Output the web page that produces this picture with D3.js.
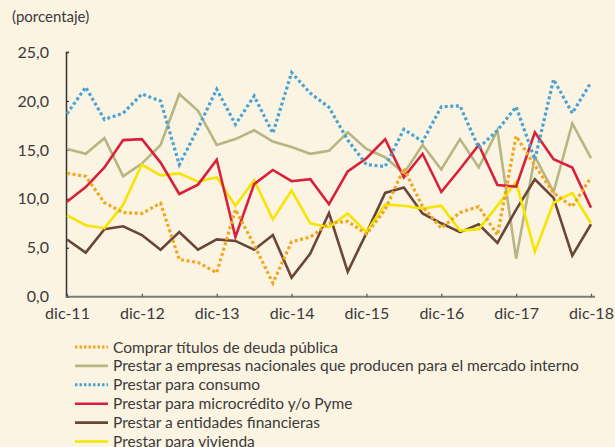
<!DOCTYPE html>
<html>
<head>
<meta charset="utf-8">
<script src="https://cdn.jsdelivr.net/npm/d3@7"></script>
<style>
  body { margin: 0; background: #fcf4e3; }
  svg { display: block; }
  text { font-family: Lato, "Open Sans", sans-serif; fill: #3a3a3a; }
</style>
</head>
<body>
<svg id="chart" width="615" height="447"></svg>
<script>
// quarterly observations, dic-11 .. dic-18
var xTickLabels = ['dic-11', 'dic-12', 'dic-13', 'dic-14', 'dic-15', 'dic-16', 'dic-17', 'dic-18'];
var yTicks = [0, 5, 10, 15, 20, 25];

var deudaPublica = [12.6, 12.3, 9.6, 8.6, 8.5, 9.55, 3.8, 3.5, 2.45, 8.9, 5.3, 1.4, 5.6, 6.1, 7.5,
    7.7, 6.4, 8.9, 13.1, 9.2, 7.0, 8.6, 9.2, 6.3, 16.4, 13.4, 10.6, 9.2, 12.2];
var empresas = [15.1, 14.6, 16.2, 12.3, 13.6, 15.5, 20.7, 19.0, 15.5, 16.1, 17.0, 15.85, 15.3, 14.6, 14.9,
    16.8, 15.1, 14.25, 12.6, 15.5, 13.0, 16.1, 13.2, 17.0, 3.9, 14.3, 10.7, 17.7, 14.15];
var consumo = [18.7, 21.4, 18.1, 18.75, 20.7, 20.0, 13.5, 17.2, 21.2, 17.6, 20.5, 16.7, 22.9, 20.8, 19.35,
    16.0, 13.5, 13.3, 17.1, 15.85, 19.4, 19.5, 15.2, 17.0, 19.4, 14.0, 22.2, 18.75, 21.9];
var microcredito = [9.7, 11.2, 13.2, 16.0, 16.1, 13.7, 10.5, 11.45, 14.0, 6.1, 11.5, 12.95, 11.8, 12.0, 9.45,
    12.8, 14.15, 16.1, 12.2, 14.6, 10.7, 13.05, 15.5, 11.4, 11.25, 16.8, 14.05, 13.2, 9.1];
var entidades = [5.85, 4.5, 6.9, 7.2, 6.3, 4.8, 6.6, 4.8, 5.85, 5.7, 4.8, 6.3, 1.95, 4.4, 8.55,
    2.55, 6.5, 10.6, 11.15, 8.5, 7.5, 6.6, 7.4, 5.5, 8.9, 12.0, 10.1, 4.2, 7.4];
var vivienda = [8.3, 7.3, 7.0, 9.4, 13.5, 12.4, 12.6, 11.75, 12.2, 9.3, 11.9, 7.9, 10.85, 7.5, 7.1,
    8.5, 6.6, 9.4, 9.3, 9.0, 9.3, 6.75, 6.9, 9.3, 11.7, 4.6, 9.6, 10.6, 7.5];

var seriesNames = [
    'Comprar títulos de deuda pública',
    'Prestar a empresas nacionales que producen para el mercado interno',
    'Prestar para consumo',
    'Prestar para microcrédito y/o Pyme',
    'Prestar a entidades financieras',
    'Prestar para vivienda'
];
var seriesValues = [deudaPublica, empresas, consumo, microcredito, entidades, vivienda];
var seriesColors = ['#f0a81e', '#b6b682', '#4ba3d3', '#d8203b', '#6a4636', '#f6e500'];
var seriesDotted = [true, false, true, false, false, false];

function drawChart() {
    var svg = d3.select('#chart');
    var plotLeft = 66, plotRight = 595, plotTop = 52, plotBottom = 296.7;

    var x = d3.scaleLinear()
        .domain([0, deudaPublica.length - 1])
        .range([67, 591]);

    var y = d3.scaleLinear()
        .domain([0, 25])
        .range([plotBottom, plotTop]);

    svg.append('rect')
        .attr('width', 615)
        .attr('height', 447)
        .attr('fill', '#fcf4e3');

    svg.append('text')
        .attr('x', 12)
        .attr('y', 22)
        .style('font-size', '15px')
        .text('(porcentaje)');

    // y axis, ticks point into the plot
    var yAxis = svg.append('g')
        .attr('transform', 'translate(' + plotLeft + ',0)')
        .call(d3.axisRight(y).tickValues(yTicks).tickSize(3).tickFormat(function (d) {
            return d3.format('.1f')(d).replace('.', ',');
        }));
    yAxis.select('.domain').attr('stroke', '#333').attr('stroke-width', 1.5);
    yAxis.selectAll('.tick line').attr('stroke', '#333').attr('stroke-width', 1.2);
    yAxis.selectAll('.tick text')
        .attr('x', -17)
        .attr('text-anchor', 'end')
        .style('font-size', '16px')
        .style('font-family', 'Lato, sans-serif')
        .attr('fill', '#3a3a3a');

    // x axis
    var xAxis = svg.append('g')
        .attr('transform', 'translate(0,' + plotBottom + ')')
        .call(d3.axisTop(x).tickValues(d3.range(0, deudaPublica.length, 4)).tickSize(3)
            .tickFormat(function (d, i) { return xTickLabels[i]; }));
    xAxis.select('.domain')
        .attr('d', 'M' + plotLeft + ',0H' + plotRight)
        .attr('stroke', '#7b7b7b').attr('stroke-width', 2);
    xAxis.selectAll('.tick line').attr('stroke', '#555').attr('stroke-width', 1.2);
    xAxis.selectAll('.tick text')
        .attr('y', 22)
        .attr('dy', 0)
        .style('font-size', '16px')
        .style('font-family', 'Lato, sans-serif')
        .attr('fill', '#3a3a3a');

    var line = d3.line()
        .x(function (d, i) { return x(i); })
        .y(function (d) { return y(d); });

    // solid lines first, dotted on top
    [1, 4, 5, 3, 0, 2].forEach(function (k) {
        svg.append('path')
            .datum(seriesValues[k])
            .attr('d', line)
            .attr('fill', 'none')
            .attr('stroke', seriesColors[k])
            .attr('stroke-width', seriesDotted[k] ? 3.2 : 2.6)
            .attr('stroke-dasharray', seriesDotted[k] ? '3,2.6' : null)
            .attr('stroke-linejoin', 'miter');
    });

    // legend
    var legend = svg.append('g');
    seriesNames.forEach(function (name, k) {
        var ly = 347 + k * 18.9;
        legend.append('line')
            .attr('x1', 75).attr('x2', 108)
            .attr('y1', ly).attr('y2', ly)
            .attr('stroke', seriesColors[k])
            .attr('stroke-width', seriesDotted[k] ? 3 : 2.6)
            .attr('stroke-dasharray', seriesDotted[k] ? '2.5,2' : null);
        legend.append('text')
            .attr('x', 113)
            .attr('y', ly + 5.5)
            .style('font-size', '15.5px')
            .text(name);
    });
}

drawChart();
</script>
</body>
</html>
